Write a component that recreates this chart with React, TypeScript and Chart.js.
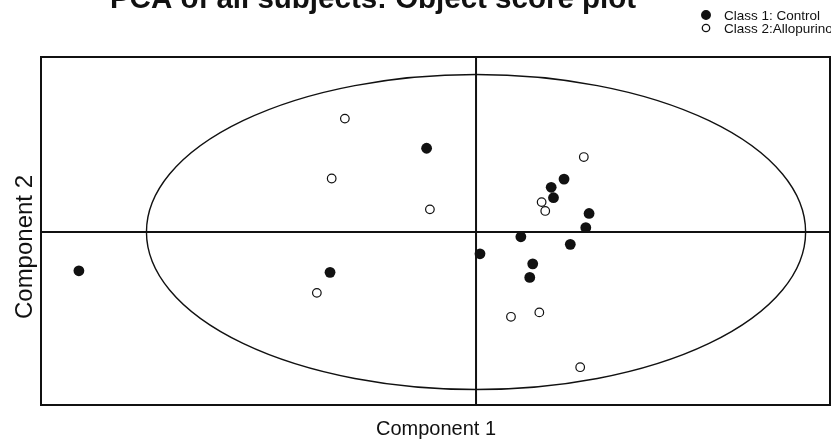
import React, { useEffect, useRef } from "react";
import { Chart, registerables } from "chart.js";

Chart.register(...registerables);

const TITLE = "PCA of all subjects: Object score plot";
const X_LABEL = "Component 1";
const Y_LABEL = "Component 2";
const SERIES_NAMES = ["Class 1: Control", "Class 2:Allopurinol"];

const controlX = [-12.05, -4.43, -1.5, 2.67, 2.28, 2.35, 3.43, 3.33, 1.36, 2.86, 0.12, 1.72, 1.63];
const controlY = [-1.23, -1.28, 2.66, 1.68, 1.42, 1.09, 0.59, 0.14, -0.15, -0.39, -0.69, -1.01, -1.44];

const allopurinolX = [-3.98, -4.38, -4.83, -1.4, 3.27, 1.99, 2.1, 1.06, 1.92, 3.16];
const allopurinolY = [3.6, 1.7, -1.93, 0.72, 2.38, 0.95, 0.67, -2.69, -2.55, -4.29];

const X_MIN = -13.2;
const X_MAX = 10.74;
const Y_MIN = -5.49;
const Y_MAX = 5.556;

const ELLIPSE_RX = 10;
const ELLIPSE_RY = 5;

const decor = {
  id: "decor",
  beforeDatasetsDraw(chart: any) {
    const { ctx, chartArea: a, scales } = chart;
    const xs = scales.x;
    const ys = scales.y;
    ctx.save();
    ctx.strokeStyle = "#111";
    const cx = xs.getPixelForValue(0);
    const cy = ys.getPixelForValue(0);
    const rx = Math.abs(xs.getPixelForValue(ELLIPSE_RX) - cx);
    const ry = Math.abs(ys.getPixelForValue(ELLIPSE_RY) - cy);
    ctx.lineWidth = 1.4;
    ctx.beginPath();
    ctx.ellipse(cx, cy, rx, ry, 0, 0, Math.PI * 2);
    ctx.stroke();
    ctx.lineWidth = 2;
    ctx.beginPath();
    ctx.moveTo(a.left, cy);
    ctx.lineTo(a.right, cy);
    ctx.moveTo(cx, a.top);
    ctx.lineTo(cx, a.bottom);
    ctx.stroke();
    ctx.strokeRect(a.left, a.top, a.right - a.left, a.bottom - a.top);
    ctx.restore();
  },
  afterDraw(chart: any) {
    const { ctx } = chart;
    ctx.save();
    ctx.fillStyle = "#111";
    ctx.font = "bold 29.5px 'Liberation Sans', Arial, sans-serif";
    ctx.textAlign = "center";
    ctx.textBaseline = "alphabetic";
    ctx.fillText(TITLE, 373, 8);
    ctx.font = "20px 'Liberation Sans', Arial, sans-serif";
    ctx.fillText(X_LABEL, 436, 435);
    ctx.save();
    ctx.translate(32, 247);
    ctx.rotate(-Math.PI / 2);
    ctx.font = "24px 'Liberation Sans', Arial, sans-serif";
    ctx.fillText(Y_LABEL, 0, 0);
    ctx.restore();
    ctx.font = "13.5px 'Liberation Sans', Arial, sans-serif";
    ctx.textAlign = "left";
    const rows = [
      { y: 15, fill: "#111", r: 4.3 },
      { y: 28, fill: "#fff", r: 3.7 },
    ];
    rows.forEach((row, i) => {
      ctx.beginPath();
      ctx.arc(706, row.y, row.r, 0, Math.PI * 2);
      ctx.fillStyle = row.fill;
      ctx.fill();
      ctx.lineWidth = 1.3;
      ctx.strokeStyle = "#111";
      ctx.stroke();
      ctx.fillStyle = "#111";
      ctx.textBaseline = "middle";
      ctx.fillText(SERIES_NAMES[i], 724, row.y + 1);
    });
    ctx.restore();
  },
};

export default function App() {
  const ref = useRef<HTMLCanvasElement>(null);
  useEffect(() => {
    document.body.style.margin = "0";
    const chart = new Chart(ref.current!, {
      type: "scatter",
      data: {
        datasets: [
          {
            label: SERIES_NAMES[0],
            data: controlX.map((x, i) => ({ x, y: controlY[i] })),
            backgroundColor: "#111",
            borderColor: "#111",
            pointRadius: 5.4,
            borderWidth: 0,
          },
          {
            label: SERIES_NAMES[1],
            data: allopurinolX.map((x, i) => ({ x, y: allopurinolY[i] })),
            backgroundColor: "#fff",
            borderColor: "#111",
            pointRadius: 4.3,
            borderWidth: 1.2,
          },
        ],
      },
      options: {
        animation: false,
        responsive: false,
        layout: { autoPadding: false, padding: { left: 41, right: 1, top: 57, bottom: 35 } },
        scales: {
          x: { type: "linear", min: X_MIN, max: X_MAX, display: false },
          y: { type: "linear", min: Y_MIN, max: Y_MAX, display: false },
        },
        plugins: { legend: { display: false }, tooltip: { enabled: false }, title: { display: false } },
      },
      plugins: [decor],
    });
    return () => chart.destroy();
  }, []);
  return (
    <div style={{ position: "fixed", left: 0, top: 0, width: 831, height: 440, background: "#fff" }}>
      <canvas ref={ref} width={831} height={440} style={{ display: "block" }} />
    </div>
  );
}
